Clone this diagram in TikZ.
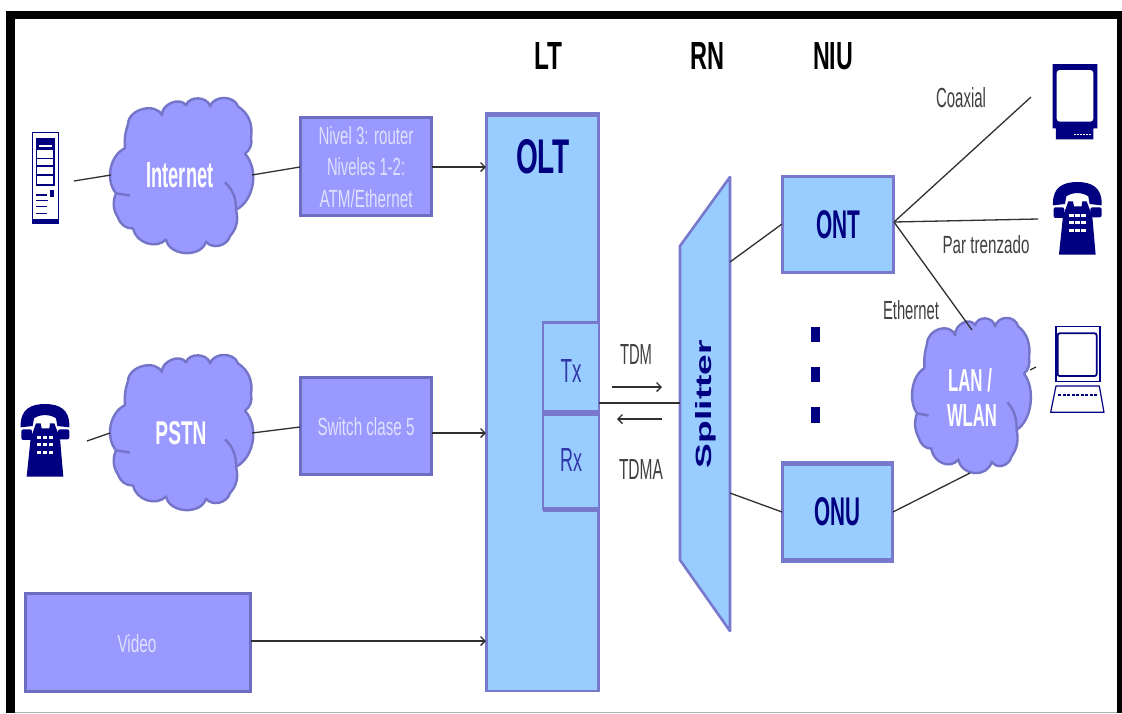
\documentclass[tikz,border=0pt]{standalone}
\usepackage{fontspec}
\usepackage{graphicx}
\setmainfont{Liberation Sans}
\usetikzlibrary{arrows.meta}
\definecolor{cloudfill}{HTML}{9999FF}
\definecolor{cloudline}{HTML}{7474C8}
\definecolor{boxline}{HTML}{6C6CC0}
\definecolor{lightfill}{HTML}{99CCFF}
\definecolor{lightline}{HTML}{7878CC}
\definecolor{deepnavy}{HTML}{000080}
\definecolor{palelabel}{HTML}{E0E0FF}
\definecolor{thinblue}{HTML}{3038A8}
\definecolor{wiregray}{HTML}{303030}
\newcommand{\fitbox}[3]{\resizebox{#1pt}{#2pt}{#3}}
\tikzset{
  x=1pt,y=-1pt,
  purplebox/.style={draw=boxline,fill=cloudfill,line width=2.6pt,inner sep=0pt,outer sep=0pt},
  lightbox/.style={draw=lightline,fill=lightfill,line width=2.6pt,inner sep=0pt,outer sep=0pt},
  label/.style={inner sep=0pt,outer sep=0pt,align=center},
  wire/.style={draw=wiregray,line width=1.3pt},
  feed/.style={draw=wiregray,line width=1.4pt,-{Straight Barb[length=4.5pt,width=9pt]}},
  cloudshape/.pic={
    \draw[cloudline,fill=cloudfill,line width=2.4pt,line join=round]
      (3,93) to[bend left=55] (12,52) to[bend left=12] (15,30) to[bend left=75] (49,22)
      to[bend left=75] (73,13) to[bend left=75] (97,14) to[bend left=70] (125,14)
      to[bend left=35] (138,42) to[bend left=35] (132,57) to[bend left=55] (123,108)
      to[bend left=30] (117,132) to[bend left=60] (93,137) to[bend left=75] (53,135)
      to[bend left=60] (20,125) to[bend left=35] (5,115) to[bend left=30] cycle;
    \draw[cloudline,line width=2.4pt] (112,83) to[bend left=25] (123,108);
    \draw[cloudline,line width=2.4pt] (3,93) -- (17,95);
  },
  phoneicon/.pic={
    \fill[deepnavy] (62,255) .. controls (62,210) and (90,192) .. (135,192)
      .. controls (180,192) and (208,210) .. (208,255) -- (208,262) -- (172,258)
      -- (168,235) .. controls (150,222) and (120,222) .. (102,235) -- (98,258) -- (62,262) -- cycle;
    \fill[deepnavy,rounded corners=2pt] (64,268) rectangle (96,300);
    \fill[deepnavy,rounded corners=2pt] (174,268) rectangle (208,298);
    \fill[deepnavy] (108,250) -- (122,250) -- (125,265) -- (148,265) -- (150,250) -- (163,250)
      -- (180,295) -- (190,410) -- (80,410) -- (92,295) -- cycle;
    \foreach \yy in {292,313,338} {
      \fill[white] (111,\yy-4) rectangle (124,\yy+4);
      \fill[white] (129,\yy-4) rectangle (142,\yy+4);
      \fill[white] (147,\yy-4) rectangle (160,\yy+4);
    }
  }
}
\begin{document}
\begin{tikzpicture}
\useasboundingbox (0,0) rectangle (1122,713);
\fill[white] (0,0) rectangle (1122,713);
% frame
\fill[black] (6,11) rectangle (1122,19);
\fill[black] (6,11) rectangle (15,713);
\fill[black] (1117,11) rectangle (1122,713);
\fill[gray!60] (15,712) rectangle (1117,713);

% clouds
\pic[yscale=1.1] at (113,91) {cloudshape};
\pic[yscale=1.1] at (113,348) {cloudshape};
\pic[xscale=0.83,yscale=1.1] at (914.5,311) {cloudshape};

% boxes
\node[purplebox,minimum width=131,minimum height=98] (nivel) at (366,166.5) {};
\node[purplebox,minimum width=131,minimum height=97] (switch) at (366,426) {};
\node[purplebox,minimum width=225,minimum height=98] (video) at (138,642.5) {};
\node[lightbox,minimum width=112,minimum height=577] (olt) at (542.5,402.5) {};
\node[lightbox,minimum width=56,minimum height=90] (tx) at (571,367.5) {};
\node[lightbox,minimum width=56,minimum height=97] (rx) at (571,460.5) {};
\node[lightbox,minimum width=111,minimum height=96] (ont) at (838,224.5) {};
\node[lightbox,minimum width=110,minimum height=99] (onu) at (837.5,512) {};
\fill[lightline] (485,112) rectangle (600,117);
\fill[lightline] (543,410) rectangle (600,416);
\fill[lightline] (543,507) rectangle (600,512);
\fill[lightline] (781,461) rectangle (894,466);
\fill[lightline] (781,558) rectangle (894,563);
\draw[lightline,fill=lightfill,line width=2.6pt,line join=round]
  (680,246) -- (730,177) -- (730,631) -- (680,560) -- cycle;

% anchors for the free connector ends
\coordinate (serverport) at (74,181);
\coordinate (cloudAin) at (111,175);
\coordinate (cloudAout) at (252,175);
\coordinate (nivelin) at (300,167);
\coordinate (phoneport) at (87,441);
\coordinate (cloudBin) at (110,433);
\coordinate (cloudBout) at (252,433);
\coordinate (switchin) at (300,427);
\coordinate (nivelout) at (432,167);
\coordinate (switchout) at (432,433);
\coordinate (videoout) at (251,641);
\coordinate (oltA) at (486,167);
\coordinate (oltB) at (486,433);
\coordinate (oltC) at (486,641);
\coordinate (oltport) at (599,403);
\coordinate (splitin) at (680,403);
\coordinate (splitA) at (730,262);
\coordinate (splitB) at (730,493);
\coordinate (ontin) at (782,224);
\coordinate (onuin) at (782,512);
\coordinate (ontport) at (894,222);
\coordinate (tvend) at (1031,97);
\coordinate (telend) at (1038,219);
\coordinate (lanin) at (972,330);
\coordinate (onuout) at (893,512);
\coordinate (lanbottom) at (970,473);
\coordinate (lanstub) at (1030,370);
\coordinate (pcstub) at (1036,367);
\coordinate (tdmA) at (612,387);
\coordinate (tdmB) at (662,387);
\coordinate (tdmaA) at (662,419);
\coordinate (tdmaB) at (617,419);

% connectors
\draw[wire] (serverport) -- (cloudAin);
\draw[wire] (cloudAout) -- (nivelin);
\draw[wire] (phoneport) -- (cloudBin);
\draw[wire] (cloudBout) -- (switchin);
\draw[feed] (nivelout) -- (oltA);
\draw[feed] (switchout) -- (oltB);
\draw[feed] (videoout) -- (oltC);
\draw[wire] (oltport) -- (splitin);
\draw[wire] (splitA) -- (ontin);
\draw[wire] (splitB) -- (onuin);
\draw[wire] (ontport) -- (tvend);
\draw[wire] (ontport) -- (telend);
\draw[wire] (ontport) -- (lanin);
\draw[wire] (onuout) -- (lanbottom);
\draw[wire] (lanstub) -- (pcstub);
\draw[feed] (tdmA) -- (tdmB);
\draw[feed] (tdmaA) -- (tdmaB);

% dots
\fill[deepnavy] (811,327) rectangle (820,342);
\fill[deepnavy] (811,367) rectangle (820,382);
\fill[deepnavy] (811,407) rectangle (820,423);

% server
\begin{scope}[shift={(0,60)},scale=0.3333]
  \draw[deepnavy,line width=1.2pt] (97,218) rectangle (175,490);
  \fill[deepnavy] (97,478) rectangle (175,492);
  \draw[deepnavy,line width=1.2pt] (110,235) rectangle (162,375);
  \fill[deepnavy] (110,235) rectangle (162,270);
  \fill[white] (118,255) rectangle (155,262);
  \foreach \yy in {295,318,345} \draw[deepnavy,line width=1.2pt] (110,\yy) -- (162,\yy);
  \foreach \yy/\xe in {405/140,422/145,440/140,460/140} \draw[deepnavy,line width=1.2pt] (108,\yy) -- (\xe,\yy);
  \fill[deepnavy] (150,390) rectangle (162,412);
\end{scope}

% phones
\pic[scale=0.3333] at (0,340) {phoneicon};
\pic[scale=0.3333] at (1032.3,118) {phoneicon};

% tv
\begin{scope}[shift={(880,40)},scale=0.3333]
  \fill[deepnavy] (518,72) -- (652,72) -- (652,265) -- (640,265) -- (640,298) -- (528,298) -- (528,265) -- (518,265) -- cycle;
  \fill[white,rounded corners=3pt] (530,90) rectangle (640,245);
  \draw[white,line width=1.6pt,dash pattern=on 2pt off 1pt] (582,283) -- (635,283);
\end{scope}

% computer
\begin{scope}[shift={(880,280)},scale=0.3333]
  \draw[deepnavy,line width=1.2pt] (528,140) rectangle (660,305);
  \draw[deepnavy,line width=1.8pt,rounded corners=2pt] (533,160) rectangle (650,288);
  \draw[deepnavy,line width=1.2pt,line join=round] (528,318) -- (658,318) -- (672,397) -- (512,397) -- cycle;
  \draw[deepnavy,line width=2pt,dash pattern=on 3pt off 1.5pt] (535,345) -- (652,345);
\end{scope}

% labels
\node[label] (ltlabel) at (548.5,56) {\fitbox{28}{27}{\textbf{LT}}};
\node[label] (rnlabel) at (707,56) {\fitbox{34}{27}{\textbf{RN}}};
\node[label] (niulabel) at (833,56) {\fitbox{40}{27}{\textbf{NIU}}};
\node[label,text=white] (internetlabel) at (180,175) {\fitbox{67}{25}{\textbf{Internet}}};
\node[label,text=white] (pstnlabel) at (181,433) {\fitbox{51}{23}{\textbf{PSTN}}};
\node[label,text=white] (lanlabel) at (970,380) {\fitbox{44}{23}{\textbf{LAN /}}};
\node[label,text=white] (wlanlabel) at (972,415) {\fitbox{50}{22}{\textbf{WLAN}}};
\node[label,text=palelabel] (nivel3) at (366,136) {\fitbox{95}{18}{Nivel 3: router}};
\node[label,text=palelabel] (nivel12) at (366,167) {\fitbox{78}{18}{Niveles 1-2:}};
\node[label,text=palelabel] (atm) at (366,199) {\fitbox{93}{18}{ATM/Ethernet}};
\node[label,text=palelabel] (switchlabel) at (366,427) {\fitbox{97}{18}{Switch clase 5}};
\node[label,text=palelabel] (videolabel) at (137,644) {\fitbox{39}{18}{Video}};
\node[label,text=deepnavy] (oltlabel) at (543,157) {\fitbox{54}{34}{\textbf{OLT}}};
\node[label,text=thinblue] (txlabel) at (571,371) {\fitbox{21}{23}{Tx}};
\node[label,text=thinblue] (rxlabel) at (571,460) {\fitbox{22}{23}{Rx}};
\node[label,text=deepnavy] (ontlabel) at (838,225) {\fitbox{44}{28}{\textbf{ONT}}};
\node[label,text=deepnavy] (onulabel) at (837,512) {\fitbox{46}{28}{\textbf{ONU}}};
\node[label,text=deepnavy,rotate=90] (splitterlabel) at (706,404) {\fitbox{128}{16}{\textbf{Splitter}}};
\node[label,text=black!75] (tdmlabel) at (636,354) {\fitbox{32}{20}{TDM}};
\node[label,text=black!75] (tdmalabel) at (641,469) {\fitbox{44}{20}{TDMA}};
\node[label,text=black!75] (coaxlabel) at (961,98) {\fitbox{50}{20}{Coaxial}};
\node[label,text=black!75] (parlabel) at (986,245) {\fitbox{87}{18}{Par trenzado}};
\node[label,text=black!75] (ethlabel) at (911,310) {\fitbox{56}{19}{Ethernet}};
\end{tikzpicture}
\end{document}
